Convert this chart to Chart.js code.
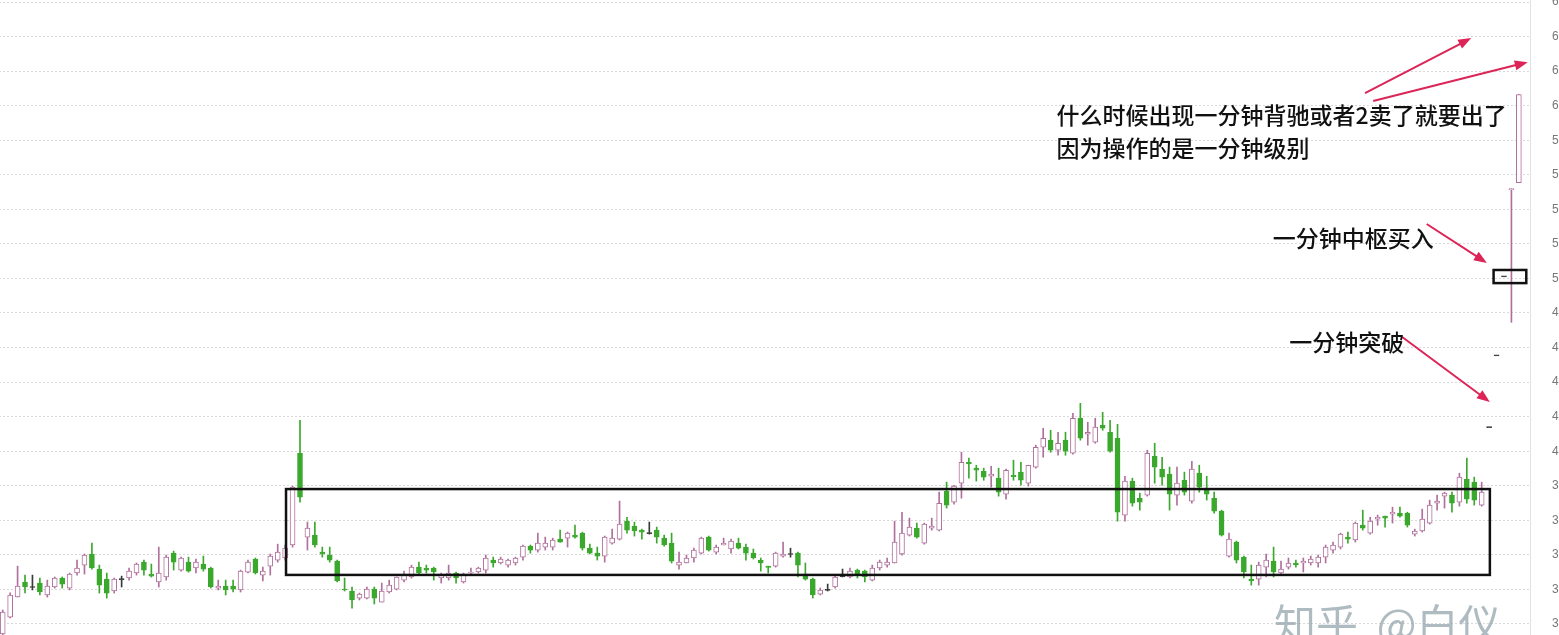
<!DOCTYPE html>
<html>
<head>
<meta charset="utf-8">
<script src="https://cdn.jsdelivr.net/npm/chart.js@4.4.0/dist/chart.umd.min.js"></script>
<style>
html,body{margin:0;padding:0;background:#fff;overflow:hidden;width:1559px;height:635px;}
#wrap{position:absolute;left:-1px;top:0;}
</style>
</head>
<body>
<div id="wrap"><canvas id="mychart" width="1600" height="635"></canvas></div>
<script>
// daily candles
const opens=[2.942,3.04,3.156,3.243,3.214,3.237,3.168,3.214,3.266,3.208,3.295,3.341,3.405,3.318,3.26,3.191,3.26,3.266,3.295,3.358,
3.289,3.243,3.272,3.41,3.312,3.358,3.324,3.347,3.324,3.208,3.22,3.22,3.197,3.3,3.376,3.283,3.335,3.37,3.382,3.457,
3.988,3.503,3.514,3.416,3.399,3.364,3.202,3.191,3.15,3.15,3.202,3.127,3.185,3.202,3.254,3.272,3.329,3.324,3.324,3.266,
3.266,3.295,3.243,3.295,3.301,3.312,3.37,3.353,3.341,3.353,3.387,3.451,3.428,3.445,3.445,3.491,3.497,3.514,3.526,3.439,
3.41,3.393,3.468,3.491,3.595,3.566,3.543,3.526,3.543,3.497,3.468,3.341,3.353,3.382,3.41,3.503,3.416,3.457,3.434,3.468,
3.445,3.41,3.37,3.335,3.335,3.393,3.405,3.41,3.289,3.26,3.173,3.197,3.214,3.277,3.272,3.312,3.306,3.254,3.324,3.341,
3.353,3.405,3.514,3.555,3.468,3.555,3.543,3.769,3.705,3.815,3.936,3.902,3.884,3.855,3.844,3.751,3.861,3.879,3.815,3.908,
4.023,4.064,4.006,4.064,3.988,4.191,4.098,4.052,4.15,4.11,4.075,3.63,3.827,3.728,3.746,3.971,3.896,3.867,3.746,3.832,
3.711,3.873,3.775,3.728,3.653,3.393,3.474,3.387,3.26,3.26,3.329,3.364,3.295,3.329,3.353,3.353,3.353,3.353,3.387,3.428,
3.445,3.503,3.486,3.572,3.526,3.607,3.624,3.636,3.642,3.642,3.52,3.538,3.584,3.699,3.74,3.746,3.705,3.838,3.821,3.688,
4.139,4.555,5.012,5.514,5.555];
const highs=[3.081,3.18,3.335,3.283,3.283,3.266,3.254,3.272,3.272,3.295,3.37,3.405,3.468,3.341,3.295,3.266,3.277,3.324,3.353,3.37,
3.347,3.445,3.399,3.422,3.387,3.387,3.376,3.393,3.329,3.254,3.254,3.254,3.312,3.37,3.382,3.329,3.405,3.462,3.457,3.798,
4.179,3.59,3.59,3.445,3.445,3.37,3.266,3.214,3.179,3.214,3.214,3.237,3.254,3.272,3.306,3.341,3.358,3.341,3.329,3.295,
3.341,3.301,3.295,3.324,3.329,3.399,3.387,3.387,3.376,3.387,3.457,3.457,3.526,3.503,3.497,3.543,3.532,3.572,3.532,3.462,
3.445,3.509,3.549,3.711,3.618,3.59,3.549,3.59,3.561,3.514,3.526,3.416,3.399,3.439,3.503,3.509,3.457,3.497,3.491,3.497,
3.462,3.434,3.382,3.335,3.416,3.474,3.439,3.416,3.353,3.266,3.208,3.231,3.283,3.318,3.324,3.318,3.312,3.341,3.37,3.382,
3.595,3.647,3.613,3.584,3.584,3.613,3.763,3.821,3.803,3.994,3.96,3.919,3.902,3.913,3.902,3.896,3.948,3.936,3.919,4.035,
4.133,4.121,4.11,4.11,4.22,4.277,4.168,4.191,4.225,4.179,4.156,3.855,3.844,3.757,4.006,4.046,3.965,3.908,3.908,3.879,
3.942,3.919,3.855,3.763,3.659,3.526,3.48,3.393,3.341,3.358,3.405,3.445,3.364,3.382,3.37,3.382,3.393,3.399,3.457,3.474,
3.526,3.532,3.59,3.659,3.618,3.63,3.624,3.676,3.676,3.647,3.549,3.665,3.717,3.746,3.763,3.763,3.873,3.96,3.85,3.821,
4.139,4.555,5.012,5.52,6.064];
const lows=[2.93,3.035,3.156,3.18,3.197,3.168,3.156,3.208,3.208,3.197,3.283,3.289,3.318,3.179,3.15,3.179,3.214,3.254,3.283,3.283,
3.272,3.214,3.254,3.312,3.306,3.3,3.295,3.306,3.208,3.197,3.168,3.185,3.185,3.295,3.289,3.249,3.283,3.358,3.37,3.445,
3.705,3.428,3.445,3.387,3.358,3.243,3.191,3.092,3.139,3.145,3.116,3.127,3.179,3.197,3.243,3.266,3.289,3.295,3.254,3.237,
3.254,3.237,3.237,3.289,3.295,3.295,3.329,3.347,3.329,3.341,3.37,3.41,3.416,3.428,3.428,3.474,3.445,3.497,3.428,3.405,
3.37,3.358,3.462,3.486,3.526,3.509,3.491,3.52,3.468,3.451,3.353,3.318,3.353,3.358,3.405,3.422,3.405,3.457,3.41,3.434,
3.37,3.376,3.306,3.295,3.329,3.387,3.387,3.272,3.254,3.15,3.168,3.191,3.208,3.272,3.266,3.266,3.243,3.249,3.312,3.329,
3.353,3.399,3.509,3.497,3.462,3.543,3.538,3.671,3.694,3.728,3.844,3.827,3.832,3.792,3.74,3.723,3.832,3.803,3.798,3.902,
3.965,3.994,3.977,3.977,3.983,4.064,4.035,4.046,4.121,3.994,3.595,3.595,3.682,3.659,3.74,3.815,3.803,3.659,3.688,3.746,
3.699,3.763,3.717,3.642,3.509,3.387,3.353,3.266,3.225,3.225,3.272,3.272,3.289,3.318,3.329,3.301,3.341,3.329,3.353,3.41,
3.434,3.468,3.474,3.543,3.52,3.572,3.561,3.584,3.618,3.561,3.509,3.532,3.578,3.659,3.671,3.647,3.682,3.699,3.688,3.682,
4.139,4.555,5.012,4.746,5.555];
const closes=[3.069,3.168,3.22,3.214,3.214,3.185,3.22,3.266,3.231,3.289,3.324,3.399,3.324,3.225,3.179,3.26,3.26,3.306,3.347,3.312,
3.277,3.295,3.387,3.358,3.382,3.306,3.358,3.318,3.214,3.22,3.197,3.202,3.306,3.358,3.295,3.306,3.393,3.416,3.439,3.792,
3.734,3.555,3.457,3.405,3.37,3.249,3.197,3.139,3.173,3.202,3.15,3.191,3.225,3.272,3.289,3.329,3.295,3.312,3.301,3.283,
3.295,3.266,3.283,3.301,3.324,3.382,3.353,3.376,3.37,3.382,3.451,3.428,3.468,3.468,3.486,3.474,3.526,3.503,3.439,3.41,
3.393,3.503,3.497,3.578,3.543,3.538,3.532,3.526,3.503,3.457,3.364,3.358,3.382,3.428,3.497,3.428,3.445,3.468,3.48,3.439,
3.41,3.382,3.353,3.327,3.41,3.405,3.405,3.341,3.26,3.168,3.197,3.197,3.272,3.277,3.306,3.283,3.272,3.324,3.358,3.358,
3.474,3.526,3.561,3.503,3.578,3.566,3.699,3.688,3.798,3.936,3.928,3.89,3.85,3.867,3.763,3.89,3.853,3.832,3.919,4.023,
4.075,4.006,4.046,4.0,4.191,4.075,4.11,4.139,4.133,4.0,3.647,3.827,3.699,3.705,3.988,3.908,3.85,3.751,3.815,3.763,
3.896,3.792,3.751,3.653,3.514,3.491,3.37,3.301,3.249,3.341,3.37,3.301,3.318,3.353,3.344,3.364,3.376,3.387,3.445,3.457,
3.52,3.491,3.584,3.555,3.595,3.618,3.613,3.647,3.624,3.572,3.538,3.607,3.688,3.711,3.757,3.699,3.85,3.723,3.717,3.763,
4.139,4.555,5.012,5.52,6.064];
const yTicks=[3.0,3.2,3.4,3.6,3.8,4.0,4.2,4.4,4.6,4.8,5.0,5.2,5.4,5.6,5.8,6.0,6.2,6.4,6.6];

// one spare slot after the last candle
const labels=opens.map((o,i)=>String(i+1)).concat(['']);

const upColor='#b0709c', downColor='#3aa82c', flatColor='#3a3a3a';
function candleColor(i){
	if(closes[i]>opens[i]) return upColor;
	if(closes[i]<opens[i]) return downColor;
	return flatColor;
}
const bodies=opens.map((o,i)=>{
	let c=closes[i];
	if(Math.abs(c-o)<0.006){ const m=(o+c)/2; return [m-0.003,m+0.003]; }
	return [o,c];
});
const wicks=lows.map((l,i)=>[l,highs[i]]);

// notes drawn over the candles, in data units
const boxes=[[38.12,200.1,3.284,3.781],[200.6,205.0,4.973,5.049]];
const arrows=[[183.3,6.073,197.6,6.391],[184.4,6.027,205.2,6.252],[191.6,5.315,199.7,5.089],[188.3,4.661,200.1,4.285]];
const notes=[['什么时候出现一分钟背驰或者2卖了就要出了',141.8,5.946],['因为操作的是一分钟级别',141.8,5.755],
	['一分钟中枢买入',170.9,5.234],['一分钟突破',173.1,4.632]];

const notePlugin={
	id:'notePlugin',
	afterDatasetsDraw(chart){
		const ctx=chart.ctx, xs=chart.scales.x, ys=chart.scales.y;
		const px=v=>xs.getPixelForValue(v), py=v=>ys.getPixelForValue(v);
		ctx.save();
		ctx.strokeStyle='#111';
		ctx.lineWidth=2.5;
		boxes.forEach(b=>{
			ctx.strokeRect(px(b[0]),py(b[3]),px(b[1])-px(b[0]),py(b[2])-py(b[3]));
		});
		ctx.strokeStyle='#dc2457';
		ctx.fillStyle='#dc2457';
		ctx.lineWidth=2;
		arrows.forEach(a=>{
			const x1=px(a[0]),y1=py(a[1]),x2=px(a[2]),y2=py(a[3]);
			const ang=Math.atan2(y2-y1,x2-x1);
			ctx.beginPath();
			ctx.moveTo(x1,y1);
			ctx.lineTo(x2-8*Math.cos(ang),y2-8*Math.sin(ang));
			ctx.stroke();
			ctx.beginPath();
			ctx.moveTo(x2,y2);
			ctx.lineTo(x2-13*Math.cos(ang)+5*Math.sin(ang),y2-13*Math.sin(ang)-5*Math.cos(ang));
			ctx.lineTo(x2-13*Math.cos(ang)-5*Math.sin(ang),y2-13*Math.sin(ang)+5*Math.cos(ang));
			ctx.closePath();
			ctx.fill();
		});
		ctx.fillStyle='#111';
		ctx.font='500 23px "Noto Sans CJK SC"';
		ctx.textBaseline='middle';
		ctx.textAlign='left';
		notes.forEach(n=>ctx.fillText(n[0],px(n[1]),py(n[2])));
		// watermark
		ctx.font='42px "Noto Sans CJK SC"';
		ctx.textBaseline='top';
		ctx.fillStyle='rgba(140,160,166,0.7)';
		ctx.fillText('知乎  @白仪',1275,603);
		ctx.restore();
	}
};

var ctx=document.getElementById('mychart').getContext('2d');
var myChart=new Chart(ctx,{
	type:'bar',
	data:{
		labels:labels,
		datasets:[{
			label:'body',
			data:bodies,
			grouped:false,
			barThickness:5,
			borderWidth:1,
			borderSkipped:false,
			backgroundColor:c=>closes[c.dataIndex]>opens[c.dataIndex]?'#ffffff':candleColor(c.dataIndex),
			borderColor:c=>candleColor(c.dataIndex),
			order:1
		},{
			label:'wick',
			data:wicks,
			grouped:false,
			barThickness:1,
			borderWidth:0,
			backgroundColor:c=>candleColor(c.dataIndex),
			order:2
		}]
	},
	options:{
		responsive:false,
		devicePixelRatio:1,
		animation:false,
		layout:{padding:0},
		plugins:{legend:{display:false},tooltip:{enabled:false}},
		scales:{
			x:{display:false,offset:true,grid:{display:false}},
			y:{
				position:'right',
				min:2.9363,
				max:6.6116,
				afterBuildTicks:s=>{ s.ticks=yTicks.map(v=>({value:v})); },
				afterFit:s=>{ s.width=69; s.paddingTop=0; s.paddingBottom=0; },
				grid:{color:'#d9d9d9',drawTicks:true,tickLength:22,tickColor:'rgba(0,0,0,0)'},
				border:{display:true,color:'#e2e2e2',dash:[2,2]},
				ticks:{padding:0,color:'#777',font:{size:12},callback:v=>v.toFixed(2)}
			}
		}
	},
	plugins:[notePlugin]
});
</script>
</body>
</html>
